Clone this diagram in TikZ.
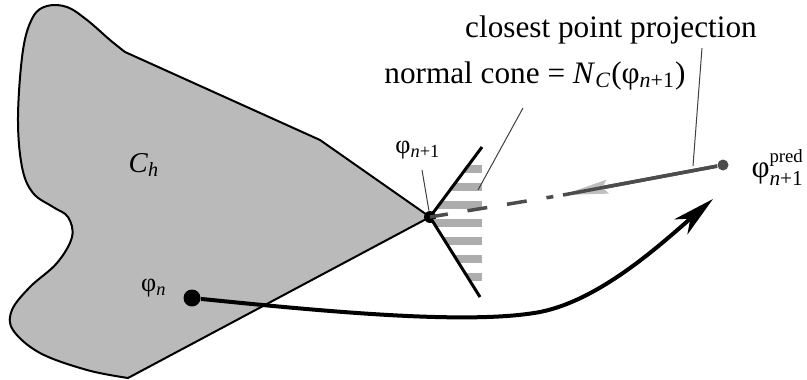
\documentclass[tikz,border=0pt]{standalone}
\usepackage{amsmath}
\usepackage{fontspec}
\setmainfont{Liberation Serif}
\usetikzlibrary{arrows.meta}

\begin{document}
\begin{tikzpicture}[x=0.4pt, y=-0.4pt,
    setline/.style={draw=black, line width=0.8pt, fill=black!27, line join=round},
    coneline/.style={line width=1.2pt},
    conebar/.style={black!32, line width=3.2pt},
    traj/.style={line width=1.6pt, -{Stealth[length=17pt, width=8pt, inset=5pt]}},
    projline/.style={black!70, line width=1.4pt},
    leader/.style={black!75, line width=0.4pt},
    biglbl/.style={inner sep=0pt, font=\fontsize{12.5}{14}\selectfont},
    smlbl/.style={inner sep=0pt, font=\fontsize{10.5}{12}\selectfont},
    ptdot/.style={circle, fill=#1, inner sep=0pt}]

    \useasboundingbox (0,0) rectangle (807,380);

    % Convex set C_h
    \draw[setline] (125,52) -- (320,140) -- (430,217) -- (128,378)
        -- plot[smooth, tension=0.6] coordinates {(128,378) (87,370) (40,353)
        (13,330) (12,310) (30,287) (57,263) (72,237) (68,217) (53,207) (33,193)
        (22,167) (18,117) (23,50) (33,17) (47,6) (67,7) (87,20) (110,40) (125,52)}
        -- cycle;

    % Points
    \node[ptdot=black, minimum size=4.8pt] (phinp) at (430,217) {};
    \node[ptdot=black, minimum size=6.8pt] (phin) at (192,298) {};
    \node[ptdot=black!70, minimum size=4.4pt] (pred) at (723,165) {};

    % Normal cone hatching
    \begin{scope}
        \clip (430,217) -- (484,140) -- (484,300) -- cycle;
        \foreach \y in {169,187,...,277}
            \draw[conebar] (425,\y) -- (482,\y);
    \end{scope}

    % Normal cone edges
    \coordinate (coneup) at (482,147);
    \coordinate (conelow) at (480,297);
    \draw[coneline] (coneup) -- (phinp.center) -- (conelow);

    % Closest point projection
    \coordinate (projtip) at (563,195);
    \draw[projline, -{Stealth[length=18pt, width=5.5pt, inset=2pt, color=black!25]}] (pred) -- (projtip);
    \draw[projline] (pred) -- (projtip);
    \draw[projline, dash pattern=on 7.2pt off 8pt on 8pt off 8pt on 8pt off 8pt on 2.8pt off 20pt]
        (phinp.center) -- (projtip);

    % Trial path
    \coordinate (trajtip) at (713,199);
    \draw[traj] (phin) .. controls (330,312) and (470,325) .. (540,312)
        .. controls (600,300) and (660,245) .. (trajtip);

    % Labels
    \node[smlbl, anchor=base] (chlbl) at (144,172) {\fontsize{11.5}{13}\selectfont\textit{C}\textsubscript{\textit{h}}};
    \node[smlbl, anchor=base] (phinlbl) at (154,291) {φ\textsubscript{\textit{n}}};
    \node[smlbl, anchor=base] (phinplbl) at (418,153) {φ\textsubscript{\textit{n}+1}};
    \node[biglbl, anchor=base west] (predlbl) at (751,177)
        {φ$^{\text{\fontsize{7.5}{8}\selectfont pred}}_{\text{\fontsize{8.5}{9}\selectfont\itshape n\upshape +1}}$};
    \node[biglbl, anchor=base] (closest) at (611,37) {closest point projection};
    \node[biglbl, anchor=base] (ncone) at (535,83)
        {normal cone = \textit{N}\textsubscript{\textit{C}}(φ\textsubscript{\textit{n}+1})};

    % Leader lines
    \coordinate (cpptop) at (702,48);
    \coordinate (cppfoot) at (693,166);
    \coordinate (nctop) at (523,108);
    \coordinate (ncfoot) at (478,190);
    \coordinate (phinptop) at (422,170);
    \draw[leader] (cpptop) -- (cppfoot);
    \draw[leader] (nctop) -- (ncfoot);
    \draw[leader] (phinptop) -- (phinp);
\end{tikzpicture}
\end{document}
